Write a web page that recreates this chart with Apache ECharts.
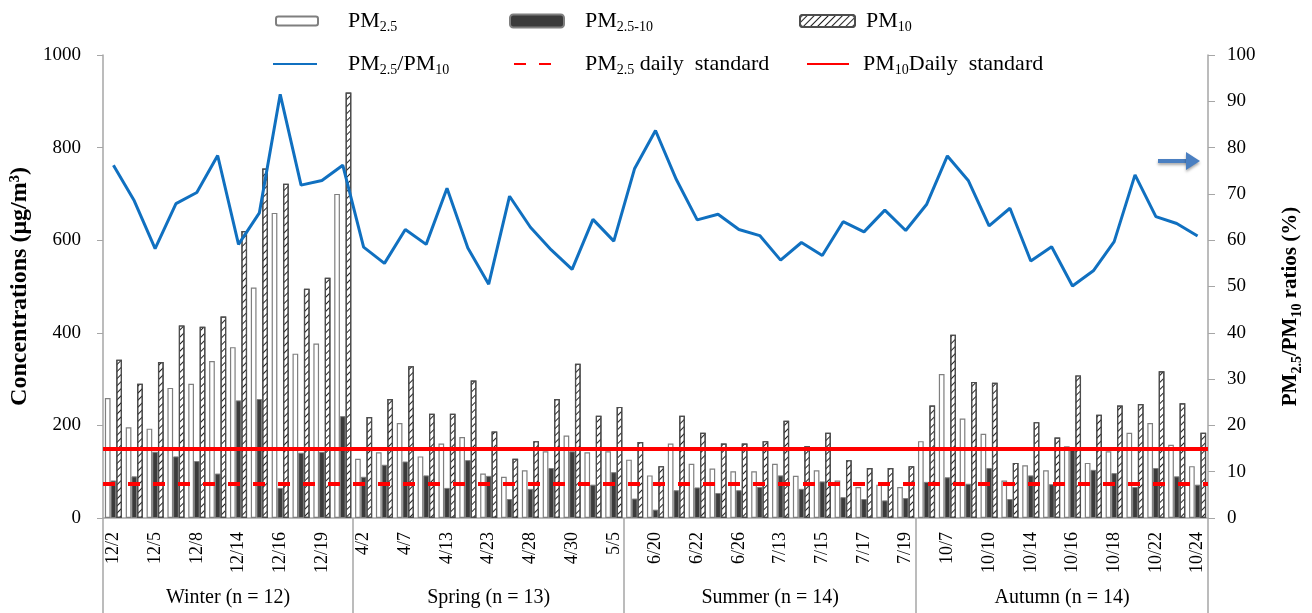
<!DOCTYPE html>
<html><head><meta charset="utf-8">
<script src="https://cdn.jsdelivr.net/npm/echarts@6/dist/echarts.min.js"></script>
<style>html,body{margin:0;padding:0;background:#fff}#c{width:1312px;height:613px}</style>
</head><body><div id="c"></div>
<script>
// ---------------- DATA ----------------
const SEASONS = ['Winter', 'Spring', 'Summer', 'Autumn'];
const SEASON_COUNTS = [12, 13, 14, 14];

const DATES = [
  '12/2','','12/5','','12/8','','12/14','','12/16','','12/19','',
  '4/2','','4/7','','4/13','','4/23','','4/28','','4/30','','5/5',
  '','6/20','','6/22','','6/26','','7/13','','7/15','','7/17','','7/19',
  '','10/7','','10/10','','10/14','','10/16','','10/18','','10/22','','10/24'
];

const PM25 = [
  259,196,193,281,290,339,369,498,659,355,377,700,
  128,142,205,133,161,175,96,89,103,144,178,142,144,
  126,92,161,117,107,101,101,117,91,103,81,67,72,67,
  166,311,215,182,81,114,103,155,119,144,184,205,158,112
];
const PM25_10 = [
  81,90,143,133,123,96,254,257,65,141,143,220,
  89,115,122,92,65,125,91,41,63,108,144,72,99,
  42,18,60,66,54,60,67,92,63,79,45,41,38,43,
  78,88,74,108,41,92,73,151,104,97,67,108,90,72
];
const PM10 = [
  342,290,337,416,413,435,620,755,722,495,519,919,
  218,257,328,225,225,297,187,128,166,257,333,221,240,
  164,112,221,184,161,161,166,210,155,184,125,108,108,112,
  243,396,294,292,119,207,174,308,223,243,246,317,248,184
];
const RATIO = [
  76.2,68.5,58.2,67.9,70.3,78.3,59.1,65.9,91.5,71.9,72.9,76.2,
  58.5,55.0,62.3,59.1,71.2,58.3,50.5,69.5,62.8,57.9,53.7,64.5,59.8,
  75.5,83.7,73.1,64.4,65.6,62.3,61.0,55.7,59.5,56.7,64.0,61.8,66.5,62.1,
  67.7,78.2,72.9,63.1,66.9,55.5,58.6,50.1,53.4,59.7,74.1,65.1,63.6,60.9
];
const PM25_STANDARD = 75;
const PM10_STANDARD = 150;
const LEFT_AXIS = { min: 0, max: 1000, interval: 200 };
const RIGHT_AXIS = { min: 0, max: 100, interval: 10 };

// ---------------- HELPERS ----------------
const SERIF = '"Liberation Serif","Times New Roman",serif';
const GRAY = '#a6a6a6';
const bounds = [0];
SEASON_COUNTS.forEach(c => bounds.push(bounds[bounds.length - 1] + c));
const centers = SEASON_COUNTS.map((c, i) => bounds[i] + c / 2);
const TOTAL = bounds[bounds.length - 1];

const LEGEND_TEXT = {
  'PM2.5': '{f|PM}{s|2.5}',
  'PM2.5-10': '{f|PM}{s|2.5-10}',
  'PM10': '{f|PM}{s|10}',
  'PM2.5/PM10': '{f|PM}{s|2.5}{n|/PM}{s|10}',
  'PM2.5 daily standard': '{f|PM}{s|2.5}{n| daily  standard}',
  'PM10 Daily standard': '{f|PM}{s|10}{n|Daily  standard}'
};
function richFor(pad) {
  return {
    f: { fontFamily: SERIF, fontSize: 22, color: '#000', padding: [0, 0, 0, pad] },
    n: { fontFamily: SERIF, fontSize: 22, color: '#000' },
    s: { fontFamily: SERIF, fontSize: 14, color: '#000', padding: [13, 0, 0, 0] }
  };
}
function legendItem(name, left, top, w, h, pad, hideSymbol) {
  const l = {
    data: [name], left: left, top: top, padding: 0,
    itemWidth: w, itemHeight: h, selectedMode: false,
    formatter: n => LEGEND_TEXT[n],
    textStyle: { rich: richFor(pad) }
  };
  if (hideSymbol) l.itemStyle = { opacity: 0 };
  return l;
}

const chart = echarts.init(document.getElementById('c'), null, { renderer: 'canvas' });
chart.setOption({
  animation: false,
  backgroundColor: '#fff',
  grid: { left: 103, right: 94, top: 55, bottom: 95, containLabel: false },
  legend: [
    legendItem('PM2.5', 275, 10, 42, 9, 25, false),
    legendItem('PM2.5-10', 509, 10, 54, 13, 16, false),
    legendItem('PM10', 799, 10, 55, 12, 6, false),
    legendItem('PM2.5/PM10', 272, 53, 44, 12, 26, true),
    legendItem('PM2.5 daily standard', 513, 53, 40, 12, 26, true),
    legendItem('PM10 Daily standard', 806, 53, 42, 12, 9, true)
  ],
  xAxis: [
    {
      type: 'category', data: DATES, boundaryGap: true,
      axisLine: { show: true, lineStyle: { color: GRAY, width: 1.5 } },
      axisTick: { show: false },
      axisLabel: { interval: 0, rotate: 90, margin: 14, color: '#000', fontFamily: SERIF, fontSize: 18 },
      splitLine: { show: false }
    },
    {
      type: 'value', min: 0, max: TOTAL, position: 'bottom',
      axisLine: { show: false },
      splitLine: { show: false },
      axisTick: { show: true, customValues: bounds, length: 95, lineStyle: { color: GRAY, width: 1.5 } },
      axisLabel: {
        customValues: centers, margin: 70, color: '#000', fontFamily: SERIF, fontSize: 20,
        formatter: v => {
          const i = centers.indexOf(v);
          return i < 0 ? '' : SEASONS[i] + ' (n = ' + SEASON_COUNTS[i] + ')';
        }
      }
    }
  ],
  yAxis: [
    {
      type: 'value', min: LEFT_AXIS.min, max: LEFT_AXIS.max, interval: LEFT_AXIS.interval,
      position: 'left',
      axisLine: { show: true, lineStyle: { color: GRAY, width: 1.5 } },
      axisTick: { show: true, length: 6, lineStyle: { color: GRAY } },
      axisLabel: { margin: 22, color: '#000', fontFamily: SERIF, fontSize: 19, formatter: v => String(v) },
      splitLine: { show: false },
      name: 'Concentrations (μg/m³)', nameLocation: 'middle', nameGap: 70, nameRotate: 90,
      nameTextStyle: { fontFamily: SERIF, fontSize: 24, fontWeight: 'bold', color: '#000' }
    },
    {
      type: 'value', min: RIGHT_AXIS.min, max: RIGHT_AXIS.max, interval: RIGHT_AXIS.interval,
      position: 'right',
      axisLine: { show: true, lineStyle: { color: GRAY, width: 1.5 } },
      axisTick: { show: true, length: 7, lineStyle: { color: GRAY } },
      axisLabel: { margin: 19, color: '#000', fontFamily: SERIF, fontSize: 19 },
      splitLine: { show: false },
      name: '{b|PM}{s|2.5}{b|/PM}{s|10}{b| ratios (%)}', nameLocation: 'middle', nameGap: 70, nameRotate: 90,
      nameTextStyle: {
        padding: [0, 40, 0, 0],
        rich: {
          b: { fontFamily: SERIF, fontSize: 21, fontWeight: 'bold', color: '#000' },
          s: { fontFamily: SERIF, fontSize: 14, fontWeight: 'bold', color: '#000', padding: [12, 0, 0, 0] }
        }
      }
    }
  ],
  series: [
    {
      name: 'PM2.5', type: 'bar', data: PM25, barWidth: 5.7, barGap: '0%',
      itemStyle: { color: '#ffffff', borderColor: '#7f7f7f', borderWidth: 1.2 }
    },
    {
      name: 'PM2.5-10', type: 'bar', data: PM25_10, barWidth: 5.7, barGap: '0%',
      itemStyle: { color: '#3b3b3b', borderColor: '#7f7f7f', borderWidth: 1 }
    },
    {
      name: 'PM10', type: 'bar', data: PM10, barWidth: 5.7, barGap: '0%',
      itemStyle: {
        color: '#ffffff', borderColor: '#4d4d4d', borderWidth: 1.2,
        decal: { symbol: 'rect', symbolSize: 1, color: '#222', dashArrayX: [1, 0], dashArrayY: [1, 4], rotation: -Math.PI / 4 }
      }
    },
    {
      name: 'PM10 Daily standard', type: 'line', data: [], symbol: 'none', z: 5,
      color: '#ff0000', lineStyle: { color: '#ff0000', width: 4 },
      markLine: {
        silent: true, symbol: ['none', 'none'], label: { show: false },
        lineStyle: { color: '#ff0000', width: 4, type: 'solid' },
        data: [{ yAxis: PM10_STANDARD }]
      }
    },
    {
      name: 'PM2.5 daily standard', type: 'line', data: [], symbol: 'none', z: 5,
      color: '#ff0000', lineStyle: { color: '#ff0000', width: 4, type: [12, 13] },
      markLine: {
        silent: true, symbol: ['none', 'none'], label: { show: false },
        lineStyle: { color: '#ff0000', width: 4, type: [12, 13] },
        data: [{ yAxis: PM25_STANDARD }]
      }
    },
    {
      name: 'PM2.5/PM10', type: 'line', yAxisIndex: 1, data: RATIO, symbol: 'none', z: 6,
      color: '#1070c0', lineStyle: { color: '#1070c0', width: 3 }
    }
  ],
  graphic: [
    {
      type: 'group', silent: true,
      children: [
        { type: 'line', shape: { x1: 1158, y1: 161, x2: 1190, y2: 161 },
          style: { stroke: '#4a7fc1', lineWidth: 4, shadowBlur: 3, shadowColor: 'rgba(0,0,0,0.35)', shadowOffsetY: 2 } },
        { type: 'polygon', shape: { points: [[1186, 152], [1200, 161], [1186, 170]] },
          style: { fill: '#4a7fc1', shadowBlur: 3, shadowColor: 'rgba(0,0,0,0.35)', shadowOffsetY: 2 } }
      ]
    }
  ]
});
</script>
</body></html>
